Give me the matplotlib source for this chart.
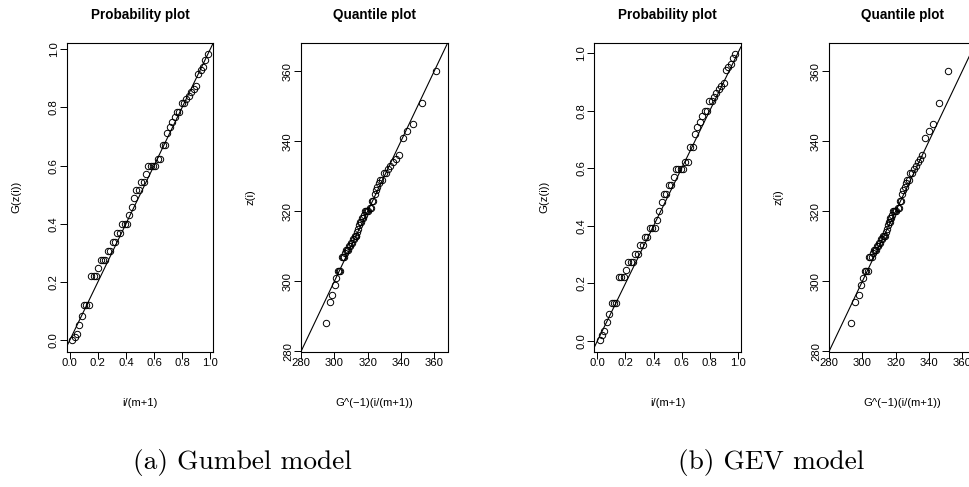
import numpy as np
import matplotlib
matplotlib.use("Agg")
import matplotlib.pyplot as plt

# sorted annual maxima (z(i))
z_sorted = [288, 294, 296, 299, 301, 303, 303, 303, 307, 307, 307, 308,
            309, 309, 309, 310, 310, 311, 311, 312, 312, 313, 313, 313,
            314, 315, 316, 317, 317, 318, 318, 319, 320, 320, 320, 320,
            321, 321, 323, 323, 325, 326, 327, 328, 329, 329, 331, 331,
            332, 333, 334, 335, 336, 341, 343, 345, 351, 360]

# fitted model parameters (estimated from the plots)
gum_mu, gum_sigma = 312.0, 12.0
gev_mu, gev_sigma, gev_xi = 312.2, 12.34, -0.13

captions = ["(a) Gumbel model", "(b) GEV model"]
prob_ticks = [0.0, 0.2, 0.4, 0.6, 0.8, 1.0]
quant_ticks = [280, 300, 320, 340, 360]
quant_lim = (280, 368)

W, H = 970, 487
plt.rcParams['font.family'] = ['Liberation Sans', 'DejaVu Sans']

z = np.array(z_sorted, dtype=float)
m = len(z)
p = np.arange(1, m + 1) / (m + 1)


def gum_cdf(x):
    return np.exp(-np.exp(-(x - gum_mu) / gum_sigma))


def gum_q(pp):
    return gum_mu - gum_sigma * np.log(-np.log(pp))


def gev_cdf(x):
    t = 1 + gev_xi * (x - gev_mu) / gev_sigma
    return np.exp(-t ** (-1 / gev_xi))


def gev_q(pp):
    return gev_mu - gev_sigma / gev_xi * (1 - (-np.log(pp)) ** (-gev_xi))


def r_lim(v):
    # R's default 4% axis extension
    lo, hi = np.min(v), np.max(v)
    r = hi - lo
    return lo - 0.04 * r, hi + 0.04 * r


fig = plt.figure(figsize=(W / 100, H / 100), dpi=100)

top, bottom, width = 43, 351.5, 146.6
lefts = [66.7, 301, 594.3, 829]
models = [(gum_cdf, gum_q), (gev_cdf, gev_q)]

for k, left in enumerate(lefts):
    ax = fig.add_axes([left / W, 1 - bottom / H, width / W, (bottom - top) / H])
    cdf, qf = models[k // 2]
    if k % 2 == 0:
        xs, ys = p, cdf(z)
        ax.plot(xs, ys, 'o', mfc='none', mec='black', ms=4.6, mew=0.7)
        ax.set_xlim(r_lim(xs))
        ax.set_ylim(r_lim(ys))
        ax.set_xticks(prob_ticks)
        ax.set_yticks(prob_ticks)
        ax.set_xticklabels([f"{t:.1f}" for t in prob_ticks])
        ax.set_yticklabels([f"{t:.1f}" for t in prob_ticks])
        title, xlab, ylab = "Probability plot", "i/(m+1)", "G(z(i))"
    else:
        xs, ys = qf(p), z
        ax.plot(xs, ys, 'o', mfc='none', mec='black', ms=4.6, mew=0.7)
        ax.set_xlim(quant_lim)
        ax.set_ylim(quant_lim)
        ax.set_xticks(quant_ticks)
        ax.set_yticks(quant_ticks)
        title, xlab, ylab = "Quantile plot", "G^(\u22121)(i/(m+1))", "z(i)"
    ax.axline((0, 0), slope=1, color='black', lw=0.8)
    ax.tick_params(length=5, width=0.7, labelsize=8.1, color='black')
    ax.tick_params(axis='x', pad=-0.6)
    ax.tick_params(axis='y', pad=0.8)
    plt.setp(ax.get_yticklabels(), rotation=90, va='center')
    for s in ax.spines.values():
        s.set_linewidth(0.8)

    cx = (left + width / 2) / W
    fig.text(cx, 1 - 15 / H, title, ha='center', va='center',
             fontsize=9.75, fontweight='bold')
    fig.text(cx, 1 - 403 / H, xlab, ha='center', va='center', fontsize=8.1)
    fig.text((left - 50) / W, 1 - (top + bottom) / 2 / H, ylab, ha='center',
             va='center', rotation=90, fontsize=8.1)

for cap, cx in zip(captions, [242.5, 771.5]):
    fig.text(cx / W, 1 - 462 / H, cap, ha='center', va='center',
             fontsize=19.7, family='cmr10')

fig.savefig("out.png", dpi=100)
